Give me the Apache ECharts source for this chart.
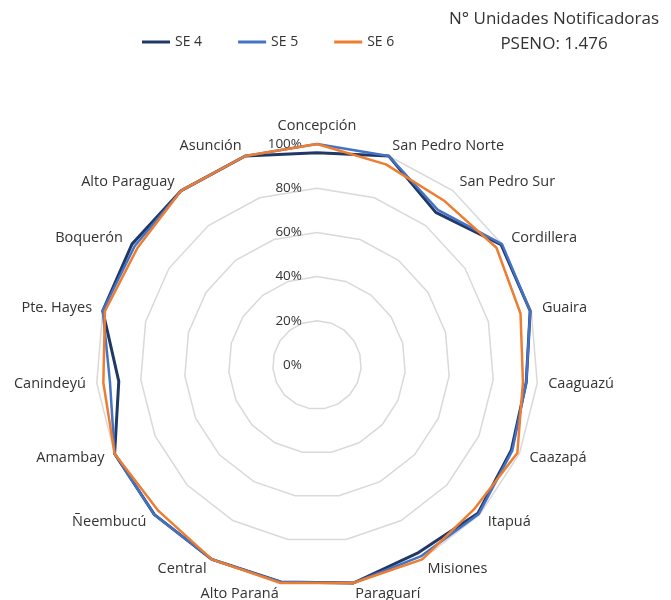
<!DOCTYPE html>
<html>
<head>
<meta charset="utf-8">
<script src="https://cdn.jsdelivr.net/npm/echarts@6/dist/echarts.min.js"></script>
<style>
  html, body { margin: 0; padding: 0; background: #ffffff; }
  #chart { width: 671px; height: 600px; }
</style>
</head>
<body>
<div id="chart"></div>
<script>
// categorías en sentido horario desde arriba (como en Excel)
const departamentos = [
  'Concepción', 'San Pedro Norte', 'San Pedro Sur', 'Cordillera', 'Guaira',
  'Caaguazú', 'Caazapá', 'Itapuá', 'Misiones', 'Paraguarí', 'Alto Paraná',
  'Central', 'Ñeembucú', 'Amambay', 'Canindeyú', 'Pte. Hayes', 'Boquerón',
  'Alto Paraguay', 'Asunción'
]

// % de unidades notificadoras por semana epidemiológica
const se4 = [96, 100, 87.5, 99.5, 99.5, 95, 96, 99, 96.5, 100, 99.5, 100, 100, 100, 90, 100, 100, 100, 100]
const se5 = [100, 100, 89, 100, 99.5, 95, 96.5, 99.5, 98.5, 100, 99.5, 100, 100, 100, 94, 100, 98.5, 100, 100]
const se6 = [100, 96, 94, 97, 95, 93.5, 99, 96.5, 100, 100, 100, 100, 97.5, 100, 97, 99, 97, 100, 100]

const seriesNames = ['SE 4', 'SE 5', 'SE 6']
const seriesColors = ['#203864', '#4472C4', '#ED7D31']
const tituloTexto = 'N° Unidades Notificadoras\nPSENO: 1.476'

// ECharts dibuja el radar en sentido antihorario: invertir el orden (menos el primero)
function horario(arr) {
  return [arr[0]].concat(arr.slice(1).reverse())
}

const chart = echarts.init(document.getElementById('chart'))

const indicators = horario(departamentos).map((name, i) => {
  const ind = { name: name, min: 0, max: 100 }
  if (i === 0) {
    ind.axisLabel = {
      show: true,
      color: '#333333',
      fontSize: 13.5,
      fontFamily: 'Open Sans',
      margin: 15,
      formatter: '{value}%'
    }
  }
  return ind
})

const seriesData = [se4, se5, se6].map((vals, i) => ({
  name: seriesNames[i],
  value: horario(vals),
  symbol: 'none',
  lineStyle: { color: seriesColors[i], width: i === 0 ? 3 : 2.5 },
  itemStyle: { color: seriesColors[i] }
}))

chart.setOption({
  animation: false,
  textStyle: { fontFamily: 'Open Sans' },
  title: {
    text: tituloTexto,
    left: 549,
    top: 2,
    textAlign: 'center',
    textStyle: {
      color: '#333333',
      fontSize: 17,
      fontWeight: 'normal',
      fontFamily: 'Open Sans',
      lineHeight: 25,
      align: 'center'
    }
  },
  legend: {
    data: seriesNames,
    left: 137,
    top: 30,
    itemWidth: 28,
    itemHeight: 3,
    itemGap: 36,
    icon: 'rect',
    textStyle: { color: '#333333', fontSize: 14, fontFamily: 'Open Sans' }
  },
  radar: {
    center: [317, 365],
    radius: 221,
    startAngle: 90,
    splitNumber: 5,
    shape: 'polygon',
    indicator: indicators,
    nameGap: 11,
    axisName: { color: '#333333', fontSize: 14.5, fontFamily: 'Open Sans' },
    axisLine: { show: false },
    axisTick: { show: false },
    axisLabel: { show: false },
    splitArea: { show: false },
    splitLine: { lineStyle: { color: '#d9d9d9', width: 1.5 } }
  },
  series: [{
    type: 'radar',
    data: seriesData
  }]
})
</script>
</body>
</html>
